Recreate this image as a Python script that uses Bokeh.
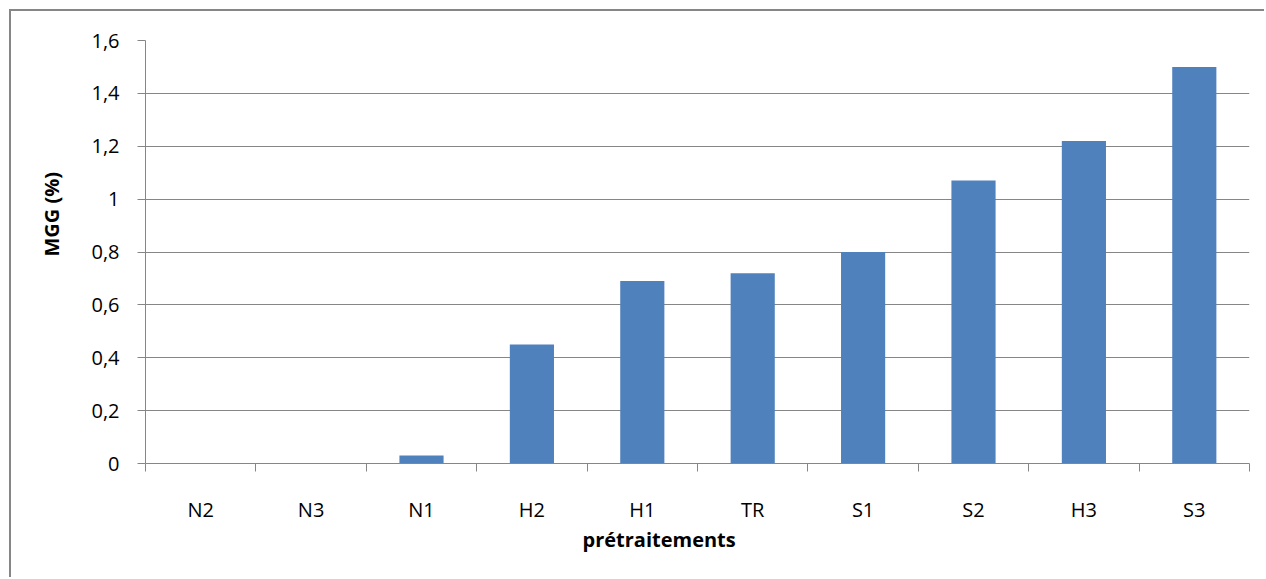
from bokeh.plotting import figure
from bokeh.models import Range1d, FixedTicker, Title, ColumnDataSource
from bokeh.embed import file_html
from bokeh.resources import INLINE

# Pretreatments and their MGG content (%)
categories = ["N2", "N3", "N1", "H2", "H1", "TR", "S1", "S2", "H3", "S3"]
mgg_values = [0.0, 0.0, 0.03, 0.45, 0.69, 0.72, 0.80, 1.07, 1.22, 1.50]
y_ticks = [0, 0.2, 0.4, 0.6, 0.8, 1.0, 1.2, 1.4, 1.6]
y_tick_labels = ["0", "0,2", "0,4", "0,6", "0,8", "1", "1,2", "1,4", "1,6"]

FONT = "Open Sans"
GREY = "#868686"
BAR = "#4F81BD"

# chart area sits inside a frame offset from the page corner
OFF = 11
W, H = 1266 - OFF, 579 - OFF
FRAME_L, FRAME_R, FRAME_T, FRAME_B = 145 - OFF, 1249 - OFF, 40 - OFF, 463 - OFF

n = len(categories)
centers = [i + 0.5 for i in range(n)]
src = ColumnDataSource(dict(x=centers, top=mgg_values, cat=categories))

p = figure(width=W, height=H, output_backend="svg", toolbar_location=None,
           x_range=Range1d(0, n), y_range=Range1d(0, 1.6),
           min_border_left=FRAME_L, min_border_right=W - FRAME_R,
           min_border_top=FRAME_T, min_border_bottom=H - FRAME_B,
           styles={"margin-left": "9px", "margin-top": "9px",
                   "border-left": "2px solid #868686", "border-top": "2px solid #868686"})
p.outline_line_color = None
p.background_fill_color = "white"
p.border_fill_color = "white"

p.vbar(x="x", top="top", bottom=0, width=0.4, source=src, fill_color=BAR, line_color=None)

# y axis
yax = p.yaxis[0]
yax.ticker = FixedTicker(ticks=y_ticks)
yax.major_label_overrides = {t: s for t, s in zip(y_ticks, y_tick_labels)}
yax.axis_line_color = GREY
yax.major_tick_line_color = GREY
yax.major_tick_out = 8
yax.major_tick_in = 0
yax.minor_tick_line_color = None
yax.major_label_standoff = 18
yax.major_label_text_font = FONT
yax.major_label_text_font_size = "20px"
yax.major_label_text_color = "black"

# x axis: labels at category centres, tick marks between categories
xax = p.xaxis[0]
xax.ticker = FixedTicker(ticks=centers, minor_ticks=list(range(n + 1)))
xax.major_label_overrides = {c: s for c, s in zip(centers, categories)}
xax.axis_line_color = GREY
xax.major_tick_line_color = None
xax.major_tick_out = 0
xax.major_tick_in = 0
xax.minor_tick_line_color = GREY
xax.minor_tick_out = 8
xax.minor_tick_in = 0
xax.major_label_standoff = 24
xax.major_label_text_font = FONT
xax.major_label_text_font_size = "20px"
xax.major_label_text_color = "black"

p.xgrid.grid_line_color = None
p.ygrid.ticker = FixedTicker(ticks=y_ticks)
p.ygrid.grid_line_color = GREY
p.ygrid.grid_line_width = 1

# axis titles
p.add_layout(Title(text="MGG (%)", align="left", offset=207,
                   vertical_align="middle", standoff=45,
                   text_font=FONT, text_font_size="20px", text_font_style="bold",
                   text_color="black"), "left")
p.add_layout(Title(text="prétraitements", align="left", offset=437,
                   vertical_align="top", standoff=0,
                   text_font=FONT, text_font_size="20px", text_font_style="bold",
                   text_color="black"), "below")

open("out.html", "w").write(file_html(p, INLINE))
